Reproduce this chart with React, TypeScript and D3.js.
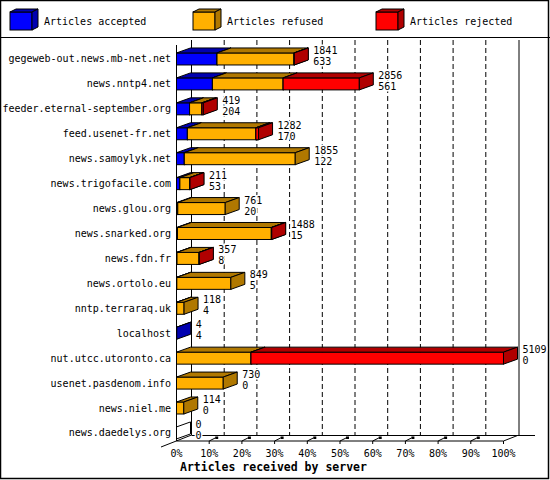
import React from 'react';
import * as d3 from 'd3';

const servers = [
  'gegeweb-out.news.mb-net.net', 'news.nntp4.net', 'feeder.eternal-september.org',
  'feed.usenet-fr.net', 'news.samoylyk.net', 'news.trigofacile.com', 'news.glou.org',
  'news.snarked.org', 'news.fdn.fr', 'news.ortolo.eu', 'nntp.terraraq.uk', 'localhost',
  'nut.utcc.utoronto.ca', 'usenet.pasdenom.info', 'news.niel.me', 'news.daedelys.org',
];
const accepted = [633, 561, 204, 170, 122, 53, 20, 15, 8, 5, 4, 4, 0, 0, 0, 0];
const refused = [1203, 1105, 193, 1070, 1733, 154, 741, 1467, 345, 844, 114, 0, 1164, 730, 114, 0];
const rejected = [5, 1190, 22, 42, 0, 4, 0, 6, 4, 0, 0, 0, 3945, 0, 0, 0];
const seriesNames = ['Articles accepted', 'Articles refused', 'Articles rejected'];
const frontColors = ['#0000ff', '#ffb000', '#ff0000'];
const darkColors = ['#0000b0', '#b07800', '#b00000'];
const ticks = [0, 10, 20, 30, 40, 50, 60, 70, 80, 90, 100];

const W = 550;
const H = 480;
const DX = 14;   // depth offset of the 3d bars
const DY = -5;
const BH = 12;   // bar front height
const FONT = '"DejaVu Sans Mono", monospace';

const totals = servers.map((_, i) => accepted[i] + refused[i] + rejected[i]);
const maxTotal = d3.max(totals) || 1;

const x = d3.scaleLinear().domain([0, 100]).range([176.5, 503.5]);
const y = d3.scaleBand<string>().domain(servers).range([46.5, 445.4]).padding(0);

const pts = (p: number[][]) => p.map(d => d.join(',')).join(' ');

function Box({ x1, x2, c, k }: { x1: number; x2: number; c: number; k: number }) {
  const t = c - BH / 2;
  const b = c + BH / 2;
  return (
    <g stroke="#000" strokeWidth={1}>
      <rect x={x1} y={t} width={x2 - x1} height={BH} fill={frontColors[k]} />
      <polygon points={pts([[x1, t], [x1 + DX, t + DY], [x2 + DX, t + DY], [x2, t]])} fill={darkColors[k]} />
      <polygon points={pts([[x2, t], [x2 + DX, t + DY], [x2 + DX, b + DY], [x2, b]])} fill={darkColors[k]} />
    </g>
  );
}

export default function App() {
  const floorF = 441;
  const floorB = 435;
  const backX0 = x(0) + 15;
  const topY = 40;
  const pct = (v: number) => (v / maxTotal) * 100;
  // value labels sit on an opaque background, hiding the grid behind them
  const halo = { stroke: '#fff', strokeWidth: 3, paintOrder: 'stroke' } as React.CSSProperties;

  return (
    <svg width={W} height={H} style={{ position: 'absolute', left: 0, top: 0, background: '#fff' }}
      fontFamily={FONT} fontSize={10}>
      <rect x={0.5} y={0.5} width={548} height={478} fill="#fff" stroke="#000" strokeWidth={1.5} />
      <line x1={0} x2={W} y1={37.5} y2={37.5} stroke="#000" />

      {/* legend */}
      {seriesNames.map((s, k) => {
        const lx = [10, 193, 376][k];
        return (
          <g key={s}>
            <g stroke="#000">
              <rect x={lx} y={12} width={22} height={18} fill={frontColors[k]} />
              <polygon points={pts([[lx, 12], [lx + 6, 9], [lx + 28, 9], [lx + 22, 12]])} fill={darkColors[k]} />
              <polygon points={pts([[lx + 22, 12], [lx + 28, 9], [lx + 28, 27], [lx + 22, 30]])} fill={darkColors[k]} />
            </g>
            <text x={lx + 34} y={24.5}>{s}</text>
          </g>
        );
      })}

      {/* back wall grid */}
      {ticks.slice(1, -1).map(p => (
        <line key={p} x1={x(p) + 15} x2={x(p) + 15} y1={topY} y2={floorB}
          stroke="#000" strokeDasharray="5,3" />
      ))}
      <line x1={backX0} x2={backX0} y1={topY} y2={floorB} stroke="#000" />
      <line x1={x(100) + 15.5} x2={x(100) + 15.5} y1={topY} y2={floorB} stroke="#000" />
      <line x1={backX0} x2={535} y1={floorB + 0.5} y2={floorB + 0.5} stroke="#000" />
      <line x1={161} x2={backX0} y1={447} y2={floorB} stroke="#000" />
      <line x1={x(100)} x2={x(100) + 14} y1={floorF} y2={floorB + 0.5} stroke="#000" />

      {/* bars */}
      {servers.map((s, i) => {
        const c = (y(s) || 0) + y.bandwidth() / 2;
        const vals = [accepted[i], refused[i], rejected[i]];
        let cum = 0;
        const boxes: React.ReactNode[] = [];
        vals.forEach((v, k) => {
          if (v <= 0) return;
          const x1 = x(pct(cum));
          cum += v;
          boxes.push(<Box key={k} x1={x1} x2={x(pct(cum))} c={c} k={k} />);
        });
        const end = x(pct(totals[i]));
        return (
          <g key={s}>
            {totals[i] === 0 && (
              <g stroke="#000" fill="none">
                <polygon points={pts([[end, c - 6], [end + DX, c - 6 + DY], [end + DX, c + 6 + DY], [end, c + 6]])} />
              </g>
            )}
            {boxes}
            <text x={end + DX + 5} y={c - 5} style={halo}>{totals[i]}</text>
            <text x={end + DX + 5} y={c + 6} style={halo}>{accepted[i]}</text>
            <text x={171} y={c + 3.5} textAnchor="end">{s}</text>
          </g>
        );
      })}

      {/* front axes */}
      <line x1={x(0)} x2={x(0)} y1={45} y2={floorF} stroke="#000" />
      <line x1={x(0)} x2={x(100)} y1={floorF} y2={floorF} stroke="#000" />
      {ticks.map(p => (
        <g key={p}>
          {p > 0 && (
            <g stroke="#000">
              <line x1={x(p)} x2={x(p)} y1={floorF} y2={floorF + 3} />
              {p < 100 && <line x1={x(p)} x2={x(p) + 6} y1={floorF} y2={floorF - 3} />}
            </g>
          )}
          {p > 0 && p < 100 && <rect x={x(p) + 6} y={floorF - 4.5} width={3} height={2.5} fill="#000" />}
          <text x={x(p)} y={457} textAnchor="middle">{p}%</text>
        </g>
      ))}
      <text x={180} y={471} fontWeight="bold" fontSize={11.5}>Articles received by server</text>
    </svg>
  );
}
